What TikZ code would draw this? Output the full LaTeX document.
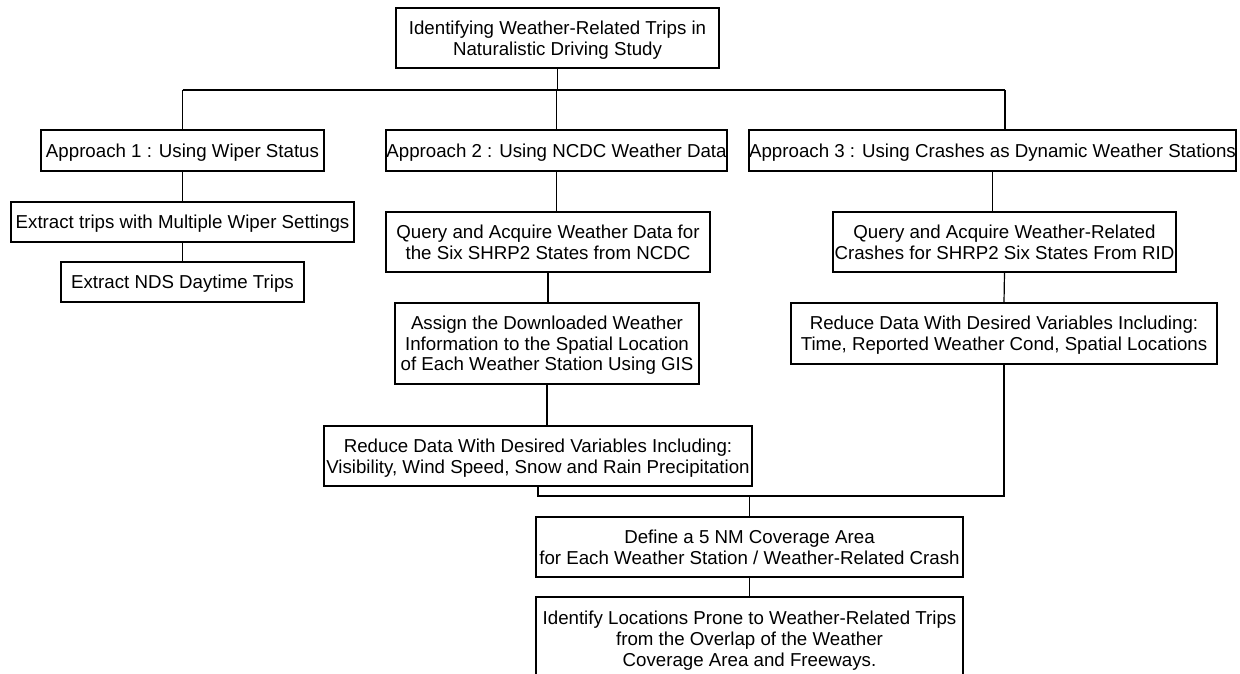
\documentclass[tikz,border=0pt]{standalone}
\usepackage{fontspec}
\setmainfont{Liberation Sans}
\newcommand{\boxtxt}[1]{\raisebox{-2.5pt}[\height][\depth]{\begin{tabular}{@{}c@{}}#1\end{tabular}}}
\begin{document}
\begin{tikzpicture}[x=1pt,y=-1pt,
  box/.style={draw=black, line width=1.2pt, inner sep=0pt,
    font=\fontsize{18.7}{20.8}\selectfont},
  conn/.style={draw=black, line width=1.2pt}]
\useasboundingbox (0,0) rectangle (1240,674);
\clip (0,0) rectangle (1240,674);
\fill[white] (0,0) rectangle (1240,674);

\node[box, minimum width=323pt, minimum height=60pt] (top) at (557.5,38)
  {\boxtxt{Identifying Weather-Related Trips in\\Naturalistic Driving Study}};

\node[box, minimum width=283pt, minimum height=41pt] (a1) at (182.5,150.5)
  {\boxtxt{Approach 1 : Using Wiper Status}};
\node[box, minimum width=341pt, minimum height=41pt] (a2) at (556.5,150.5)
  {\boxtxt{Approach 2 : Using NCDC Weather Data}};
\node[box, minimum width=487pt, minimum height=41pt] (a3) at (992.5,150.5)
  {\boxtxt{Approach 3 : Using Crashes as Dynamic Weather Stations}};

\node[box, minimum width=343pt, minimum height=40pt] (e1) at (182.5,222)
  {\boxtxt{Extract trips with Multiple Wiper Settings}};
\node[box, minimum width=243pt, minimum height=40pt] (e2) at (182.5,282)
  {\boxtxt{Extract NDS Daytime Trips}};

\node[box, minimum width=324pt, minimum height=60pt] (q2) at (548,242)
  {\boxtxt{Query and Acquire Weather Data for\\the Six SHRP2 States from NCDC}};
\node[box, minimum width=304pt, minimum height=81pt] (as) at (547,343.5)
  {\boxtxt{Assign the Downloaded Weather\\Information to the Spatial Location\\of Each Weather Station Using GIS}};
\node[box, minimum width=428pt, minimum height=60pt] (r2) at (538,456)
  {\boxtxt{Reduce Data With Desired Variables Including:\\Visibility, Wind Speed, Snow and Rain Precipitation}};

\node[box, minimum width=343pt, minimum height=60pt] (q3) at (1004.5,242)
  {\boxtxt{Query and Acquire Weather-Related\\Crashes for SHRP2 Six States From RID}};
\node[box, minimum width=426pt, minimum height=61pt] (r3) at (1004,333.5)
  {\boxtxt{Reduce Data With Desired Variables Including:\\Time, Reported Weather Cond, Spatial Locations}};

\node[box, minimum width=427pt, minimum height=60pt] (d) at (749.5,547)
  {\boxtxt{Define a 5 NM Coverage Area\\for Each Weather Station / Weather-Related Crash}};
\node[box, minimum width=427pt, minimum height=84pt] (id) at (749.5,639)
  {\boxtxt{Identify Locations Prone to Weather-Related Trips\\from the Overlap of the Weather\\Coverage Area and Freeways.}};

% bus under the title
\coordinate (b1) at (182.5,90);
\coordinate (b3) at (1005,90);
\draw[conn] (b1) -- (b3);
\draw[conn] (top.south) -- (top.south |- b1);
\draw[conn] (b1) -- (a1.north);
\draw[conn] (a2.north |- b1) -- (a2.north);
\draw[conn] (b3) -- (b3 |- a3.north);

% approach 1
\draw[conn] (a1.south) -- (e1.north);
\draw[conn] (e1.south) -- (e2.north);

% approach 2
\draw[conn] (a2.south) -- (a2.south |- q2.north);
\draw[conn] (q2.south) -- (q2.south |- as.north);
\draw[conn] (as.south) -- (as.south |- r2.north);

% approach 3
\draw[conn] (a3.south) -- (a3.south |- q3.north);
\draw[conn] (q3.south) -- (r3.north);

% join
\coordinate (j) at (749.5,496);
\draw[conn] (r2.south) -- (r2.south |- j) -- (r3.south |- j) -- (r3.south);
\draw[conn] (j) -- (d.north);
\draw[conn] (d.south) -- (id.north);
\end{tikzpicture}
\end{document}
